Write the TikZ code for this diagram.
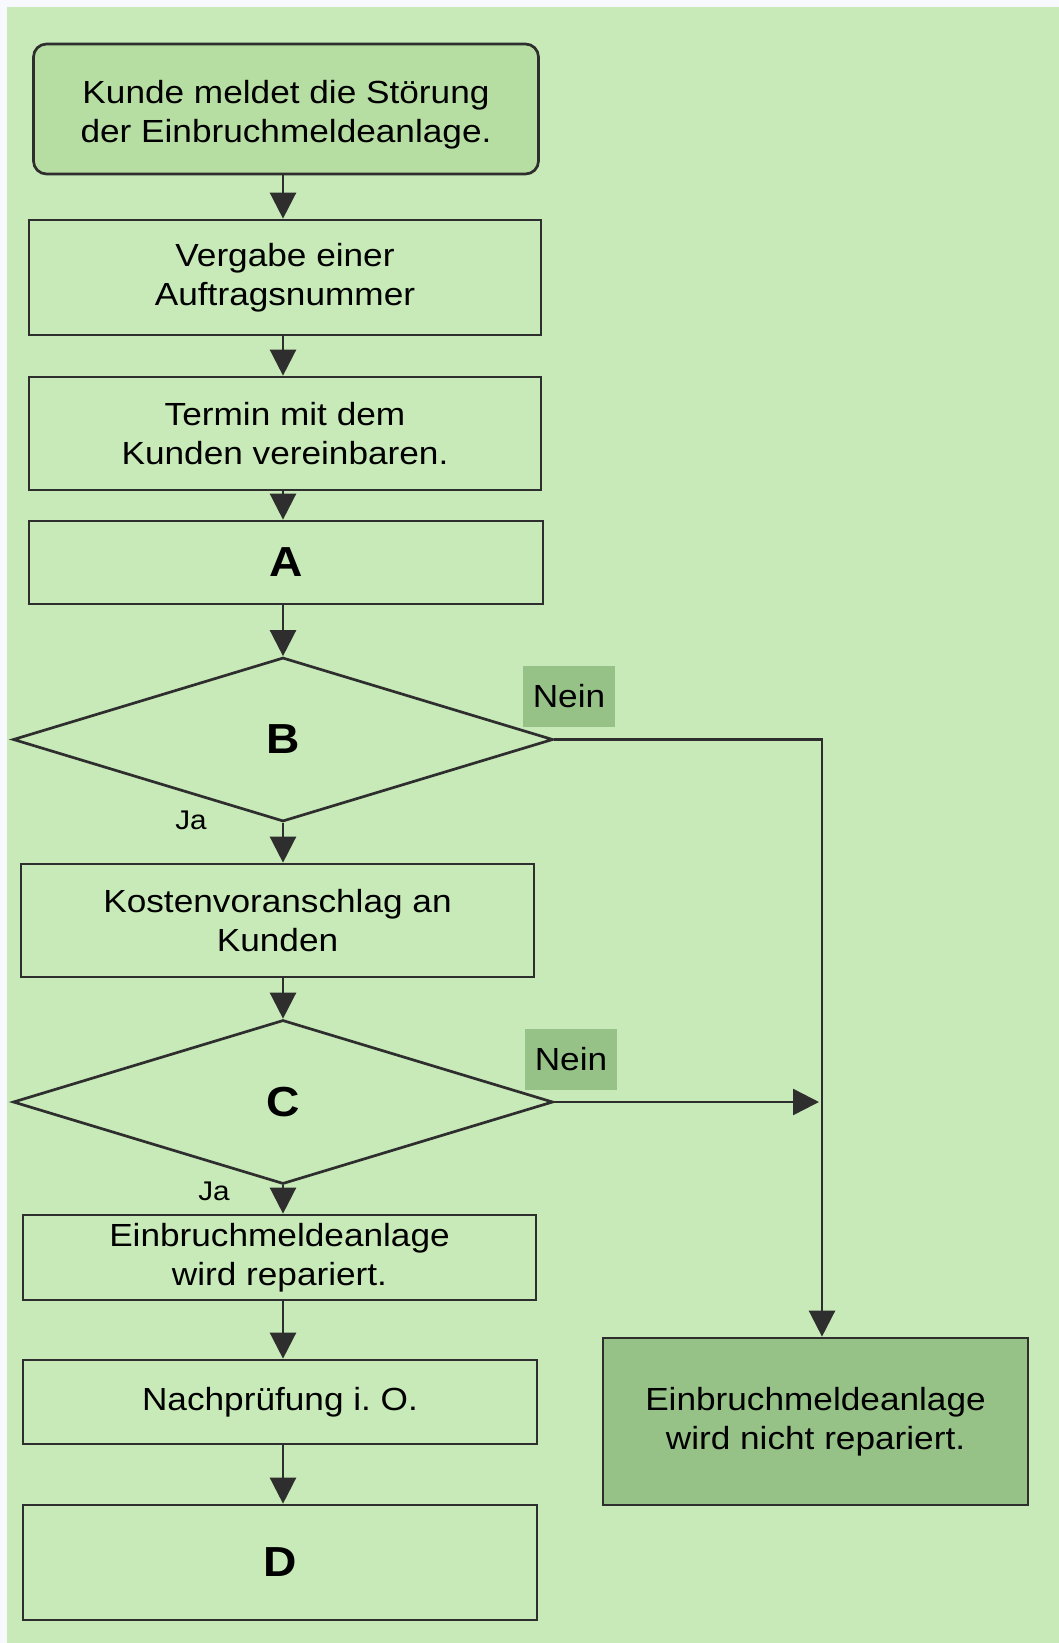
\documentclass[tikz,border=0pt]{standalone}
\usepackage{fontspec}
\setmainfont[FakeStretch=1.1]{Liberation Sans}
\usetikzlibrary{arrows.meta,shapes.geometric}
\definecolor{bggreen}{HTML}{C8EAB8}
\definecolor{startfill}{HTML}{B6DDA2}
\definecolor{darkfill}{HTML}{96C287}
\definecolor{linecol}{HTML}{2E2E2E}
\definecolor{margin}{HTML}{F8F9FE}
\begin{document}
\begin{tikzpicture}[x=0.5pt,y=-0.5pt,
  font=\fontsize{16}{19.5}\selectfont,
  box/.style={draw=linecol, line width=1.35pt, rectangle, inner sep=0pt, align=center},
  big/.style={font=\fontsize{21}{24}\selectfont\bfseries},
  dec/.style={draw=linecol, line width=1.35pt, diamond, inner sep=0pt, minimum width=270pt, minimum height=82pt, big},
  arr/.style={draw=linecol, line width=1.25pt, -{Triangle[length=13pt,width=13pt]}},
  lbl/.style={fill=darkfill, minimum width=46pt, minimum height=30.5pt, inner sep=0pt},
  ja/.style={font=\fontsize{13.5}{16}\selectfont, inner sep=0pt}
]
\fill[margin] (0,0) rectangle (1059,1643);
\fill[bggreen] (7,7) rectangle (1059,1643);
\useasboundingbox (0,0) rectangle (1059,1643);

\coordinate (col) at (283,0);
\coordinate (colR) at (822,0);

\node[box, fill=startfill, rounded corners=6.5pt, minimum width=252.5pt, minimum height=65pt] (start) at (286,109)
  {\raisebox{-3pt}[\height][\depth]{\begin{tabular}{@{}c@{}}Kunde meldet die Störung\\der Einbruchmeldeanlage.\end{tabular}}};
\node[box, minimum width=256pt, minimum height=57.5pt] (v2) at (285,277.5) {Vergabe einer\\Auftragsnummer};
\node[box, minimum width=256pt, minimum height=56.5pt] (v3) at (285,433.5) {Termin mit dem\\Kunden vereinbaren.};
\node[box, big, minimum width=257pt, minimum height=41.5pt] (A) at (286,562.5) {A};
\node[dec] (B) at (283,739.5) {B};
\node[box, minimum width=256.5pt, minimum height=56.5pt] (K) at (277.5,920.5) {Kostenvoranschlag an\\Kunden};
\node[dec] (C) at (283,1102) {C};
\node[box, minimum width=256.5pt, minimum height=42.5pt] (E) at (279.5,1257.5) {Einbruchmeldeanlage\\wird repariert.};
\node[box, minimum width=257pt, minimum height=42pt] (N) at (280,1402) {Nachprüfung i.\ O.};
\node[box, big, minimum width=257pt, minimum height=57.5pt] (D) at (280,1562.5) {D};
\node[box, fill=darkfill, minimum width=212.5pt, minimum height=83.5pt] (X) at (815.5,1421.5) {Einbruchmeldeanlage\\wird nicht repariert.};

\node[lbl] (nB) at (569,696.5) {Nein};
\node[lbl] (nC) at (571,1059.5) {Nein};
\node[ja] (jB) at (191,820) {Ja};
\node[ja] (jC) at (214,1191) {Ja};

\draw[arr] (start.south -| col) -- (v2.north -| col);
\draw[arr] (v2.south -| col) -- (v3.north -| col);
\draw[arr] (v3.south -| col) -- (A.north -| col);
\draw[arr] (A.south -| col) -- (B.north);
\draw[arr] (B.south) -- (K.north -| col);
\draw[arr] (K.south -| col) -- (C.north);
\draw[arr] (C.south) -- (E.north -| col);
\draw[arr] (E.south -| col) -- (N.north -| col);
\draw[arr] (N.south -| col) -- (D.north -| col);
\draw[arr] (B.east) -| (X.north -| colR);
\draw[arr, shorten >=1.5pt] (C.east) -- (C.east -| colR);
\end{tikzpicture}
\end{document}
